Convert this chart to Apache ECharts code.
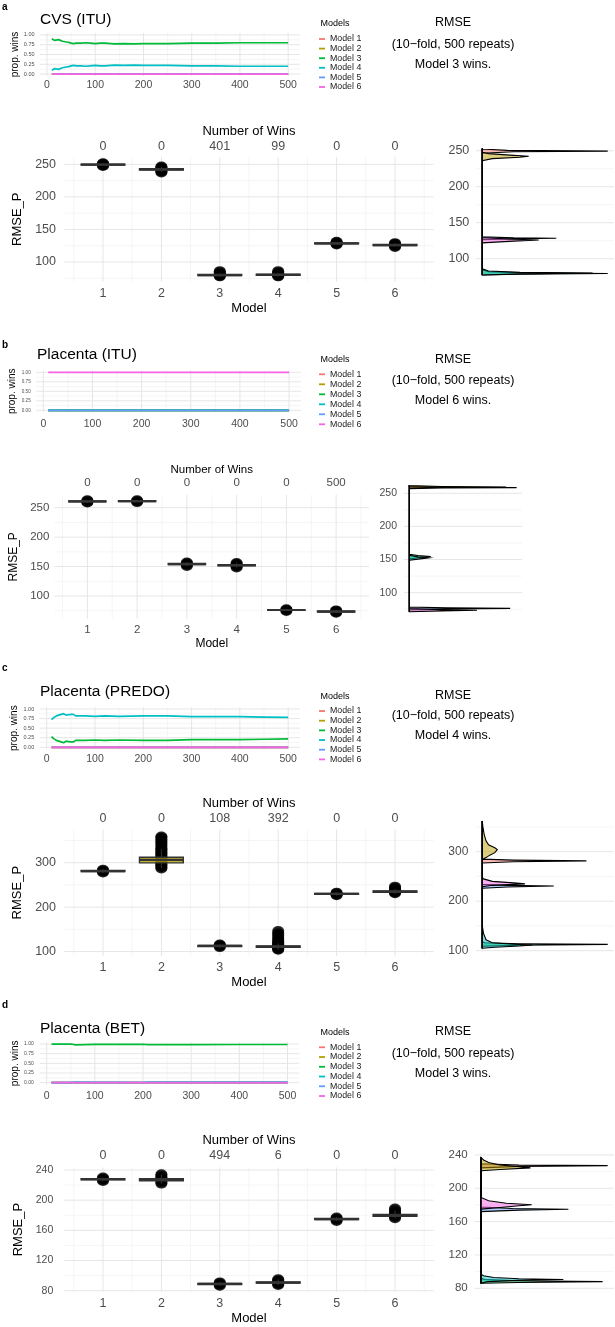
<!DOCTYPE html>
<html><head><meta charset="utf-8">
<script src="https://cdn.jsdelivr.net/npm/echarts@6/dist/echarts.min.js"></script>
<style>html,body{margin:0;padding:0;background:#fff}#c{width:615px;height:1327px}</style>
</head><body><div id="c"></div>
<script>
const MODELS = ['Model 1','Model 2','Model 3','Model 4','Model 5','Model 6'];
const COLORS = ['#F8766D','#B79F00','#00BA38','#00BFC4','#619CFF','#F564E3'];
const MODEL_POS = [1,2,3,4,5,6];

const REPEAT_TICKS = [0,100,200,300,400,500];
const REPEAT_MINOR = [50,150,250,350,450];
const PROP_TICKS = [0,0.25,0.5,0.75,1];
const PROP_MINOR = [0.125,0.375,0.625,0.875];
const BOX_X_MINOR = [0.5,1.5,2.5,3.5,4.5,5.5,6.5];
const FLAT_REPEATS = [10,500];
const FLAT_ZERO = [0,0];
const FLAT_ONE = [1,1];

// ---------- Panel a : CVS (ITU) ----------
const A_TITLE = 'CVS (ITU)';
const A_WINNER = 'Model 3 wins.';
const A_WINS = [0,0,401,99,0,0];
const A_REPEATS = [10,13,16,20,24,28,32,36,40,45,50,55,60,70,80,90,100,110,120,140,160,180,200,250,300,350,400,450,500];
const A_PROP3 = [0.90,0.93,0.86,0.85,0.88,0.86,0.84,0.83,0.82,0.81,0.79,0.78,0.79,0.79,0.80,0.79,0.78,0.79,0.79,0.77,0.78,0.77,0.78,0.78,0.79,0.79,0.80,0.80,0.80];
const A_PROP4 = [0.10,0.07,0.14,0.15,0.12,0.14,0.16,0.17,0.18,0.19,0.21,0.22,0.21,0.21,0.20,0.21,0.22,0.21,0.21,0.23,0.22,0.23,0.22,0.22,0.21,0.21,0.20,0.20,0.20];
const A_LO  = [247.5,238.5,77.8,77.8,126.8,123.5];
const A_Q1  = [248.8,241.2,79.3,79.6,127.9,125.2];
const A_MED = [249.5,242.2,80.0,80.4,128.6,126.0];
const A_Q3  = [250.2,243.2,80.8,81.3,129.3,126.9];
const A_HI  = [251.5,246.0,82.5,83.0,130.5,128.8];
const A_PTS = [[247.5,248.5,249.5,250.5,251.5],[237.5,239,240.5,242,243.5,245,246.5],[78,79,80,81,82,84,86],[78,79,80,81,82,84,86],[127,128,129,130,131],[123,124.5,126,127.5,129]];
const A_DENS = [
  [[77.5,0],[246.5,0],[248.5,0.25],[249.5,1.0],[250.5,0.2],[252.5,0],[253,0]],
  [[77.5,0],[236,0],[239,0.08],[241,0.3],[242.3,0.37],[243.5,0.25],[246,0.05],[248,0],[253,0]],
  [[77.5,0],[78.5,0.3],[79.5,1.0],[80.5,0.35],[82,0.05],[85,0],[253,0]],
  [[77.5,0],[79,0.3],[80.2,0.88],[81,0.3],[83,0.05],[86,0],[253,0]],
  [[77.5,0],[126.5,0],[127.8,0.3],[128.4,0.59],[129,0.25],[130.5,0],[253,0]],
  [[77.5,0],[122,0],[124.5,0.25],[126,0.45],[127.5,0.2],[129.5,0],[253,0]]
];
const A_BOX_TICKS = [100,150,200,250];
const A_BOX_MINOR = [75,125,175,225];
const A_DENS_TICKS = [100,150,200,250];
const A_DENS_MINOR = [125,175,225];

// ---------- Panel b : Placenta (ITU) ----------
const B_TITLE = 'Placenta (ITU)';
const B_WINNER = 'Model 6 wins.';
const B_WINS = [0,0,0,0,0,500];
const B_LO  = [258.8,259.3,150.5,148.3,74.3,71.3];
const B_Q1  = [260.0,260.5,153.5,151.5,75.5,72.8];
const B_MED = [260.8,261.3,154.3,152.4,76.2,73.6];
const B_Q3  = [261.6,262.0,155.1,153.2,76.9,74.4];
const B_HI  = [262.8,263.0,158.0,156.5,78.0,75.8];
const B_PTS = [[259,260,261,262.5],[259.5,261,262.5],[151,153,155,157],[148.5,150.5,152.5,154.5,156],[74.5,76,77.5],[71.5,73,74.5,75.5]];
const B_DENS = [
  [[71.3,0],[257,0],[258,0.3],[258.6,1.0],[259.3,0.3],[260.5,0],[262.5,0]],
  [[71.3,0],[258,0],[259,0.3],[259.5,0.9],[260.2,0.3],[261.5,0],[262.5,0]],
  [[71.3,0],[151,0],[153,0.1],[154.5,0.2],[156,0.08],[158,0],[262.5,0]],
  [[71.3,0],[149,0],[151,0.1],[152.5,0.18],[154,0.08],[156.5,0],[262.5,0]],
  [[71.3,0],[74,0],[75.5,0.4],[76.3,0.94],[77,0.35],[78.5,0],[262.5,0]],
  [[71.3,0],[72.5,0.3],[73.6,0.63],[74.5,0.3],[76,0],[262.5,0]]
];
const B_BOX_TICKS = [100,150,200,250];
const B_BOX_MINOR = [75,125,175,225];
const B_DENS_TICKS = [100,150,200,250];
const B_DENS_MINOR = [75,125,175,225];

// ---------- Panel c : Placenta (PREDO) ----------
const C_TITLE = 'Placenta (PREDO)';
const C_WINNER = 'Model 4 wins.';
const C_WINS = [0,0,108,392,0,0];
const C_REPEATS = [10,15,20,25,30,35,40,45,50,55,60,70,80,100,120,150,200,250,300,350,400,450,500];
const C_PROP4 = [0.72,0.78,0.82,0.84,0.86,0.88,0.84,0.85,0.86,0.86,0.82,0.82,0.82,0.81,0.82,0.81,0.82,0.82,0.80,0.80,0.80,0.79,0.78];
const C_PROP3 = [0.28,0.22,0.18,0.16,0.14,0.12,0.16,0.15,0.14,0.14,0.18,0.18,0.18,0.19,0.18,0.19,0.18,0.18,0.20,0.20,0.20,0.21,0.22];
const C_LO  = [277,288,109,104,226,230];
const C_Q1  = [279.8,299.5,111.5,109.8,228.6,233.3];
const C_MED = [281.0,306.0,112.6,111.0,229.7,234.8];
const C_Q3  = [282.2,312.0,113.8,112.5,230.8,236.4];
const C_HI  = [285,330,116,118,233,241];
const C_PTS = [[278,280,282,284],[287,290,293,296,299,302,305,308,311,314,317,320,323,326,329,332,336,340,344,348,352,356,359],[110,112,114,116],[104,106,108,110,112,114,116,118,120,123,127,131,136,141,146],[226.5,228.5,230.5,232.5],[231,233,235,237,240,243,246]];
const C_DENS = [
  [[105,0],[277,0],[279.5,0.25],[281.5,0.83],[283,0.25],[285,0],[362,0]],
  [[105,0],[284,0],[288,0.03],[293,0.06],[298,0.1],[304,0.12],[308,0.1],[314,0.05],[322,0.03],[335,0.015],[350,0.005],[362,0]],
  [[105,0],[109,0],[111,0.3],[112.7,1.0],[114,0.3],[116,0.02],[118,0],[362,0]],
  [[105,0],[107,0.1],[109.5,0.3],[111.5,0.4],[113,0.25],[116,0.08],[122,0.03],[135,0.01],[150,0],[362,0]],
  [[105,0],[226,0],[228.5,0.2],[230.5,0.57],[232,0.2],[234,0],[362,0]],
  [[105,0],[229,0],[232,0.08],[235,0.34],[237,0.25],[240,0.08],[245,0.01],[248,0],[362,0]]
];
const C_BOX_TICKS = [100,200,300];
const C_BOX_MINOR = [150,250,350];
const C_DENS_TICKS = [100,200,300];
const C_DENS_MINOR = [150,250,350];

// ---------- Panel d : Placenta (BET) ----------
const D_TITLE = 'Placenta (BET)';
const D_WINNER = 'Model 3 wins.';
const D_WINS = [0,0,494,6,0,0];
const D_REPEATS = [10,50,53,60,100,150,200,210,250,300,400,500];
const D_PROP3 = [1.00,1.00,0.98,0.98,0.99,0.99,0.995,0.986,0.988,0.987,0.988,0.988];
const D_PROP4 = [0.00,0.00,0.02,0.017,0.01,0.007,0.005,0.014,0.012,0.013,0.012,0.012];
const D_LO  = [225.5,222,86.5,87.5,172.5,176];
const D_Q1  = [227.0,225.6,88.2,90.0,174.2,178.8];
const D_MED = [227.8,227.0,88.9,90.8,175.0,180.0];
const D_Q3  = [228.6,228.4,89.6,91.6,175.8,181.2];
const D_HI  = [230,234,91,95,177.5,186];
const D_PTS = [[225.5,227,228.5,230],[222,224,226,228,230,232,234.5],[86.5,88,89.5,91],[87.5,89,90.5,92,93.5,95],[172.5,174,175.5,177],[176,178,180,182,184,186.5,189]];
const D_DENS = [
  [[86,0],[224.5,0],[226.3,0.3],[227.2,1.0],[228,0.3],[229.5,0],[237,0]],
  [[86,0],[221,0],[222.5,0.15],[224.5,0.39],[226,0.3],[228,0.15],[231,0.06],[234,0.02],[237,0]],
  [[86,0],[87,0.3],[88,0.96],[89,0.3],[90.5,0.03],[92,0],[237,0]],
  [[86,0],[88,0.05],[89.5,0.3],[90.5,0.65],[91.5,0.3],[93,0.1],[95,0.02],[97,0],[237,0]],
  [[86,0],[172,0],[173.8,0.3],[174.8,0.69],[175.8,0.25],[177.5,0],[237,0]],
  [[86,0],[175,0],[177,0.15],[179,0.3],[180.2,0.4],[182,0.2],[185,0.06],[189,0],[237,0]]
];
const D_BOX_TICKS = [80,120,160,200,240];
const D_BOX_MINOR = [100,140,180,220];
const D_DENS_TICKS = [80,120,160,200,240];
const D_DENS_MINOR = [100,140,180,220];

// ---------- layout (positions / sizes only) ----------
const LAY_A = {letter:'a', letterY:7.5, titleY:19.5, titleX:40, titleSize:15.5,
  line:{left:40,top:33,width:260,height:43}, lxSize:10.5, lxMargin:4, lySize:5.5, lyMargin:5.5, propGap:18,
  legTitleY:24, legTop:34.2, legStep:9.6, textY:[22.7,44.3,64.3],
  box:{left:64.3,top:156.7,width:369.4,height:125}, boxRange:[69.8,261.7], bxSize:12.5, bxMargin:5, byMargin:8.3, bySize:12.5,
  topMargin:3.5, nowGap:19, nowSize:13, modelGap:20, rmseGap:33, rmseSize:13,
  dens:{left:476,top:148,width:138,height:127}, densRange:[77.4,253.8], dySize:12.5, dyMargin:6.7};
const LAY_B = {letter:'b', letterY:345, titleY:355, titleX:37, titleSize:15.5,
  line:{left:36.2,top:370.4,width:264.9,height:41.8}, lxSize:10.5, lxMargin:6.5, lySize:4.6, lyMargin:5.5, propGap:18.5,
  legTitleY:360, legTop:369.3, legStep:10, textY:[359.3,381,401],
  box:{left:54.4,top:494.7,width:314.7,height:124.3}, boxRange:[60.9,272.1], bxSize:11.5, bxMargin:5, byMargin:5, bySize:11.5,
  topMargin:5.5, nowGap:19, nowSize:11.5, modelGap:19, rmseGap:27, rmseSize:12,
  dens:{left:404,top:485,width:118,height:126.7}, densRange:[71.3,262.5], dySize:10.5, dyMargin:7};
const LAY_C = {letter:'c', letterY:668, titleY:692, titleX:40, titleSize:15.5,
  line:{left:39.7,top:707.1,width:260.3,height:42.1}, lxSize:10.5, lxMargin:4.5, lySize:5.5, lyMargin:5.5, propGap:19.5,
  legTitleY:696.7, legTop:706.2, legStep:9.67, textY:[696,716,736],
  box:{left:64.3,top:829.3,width:369.4,height:126.7}, boxRange:[90,375], bxSize:12.5, bxMargin:5, byMargin:8.3, bySize:12.5,
  topMargin:3.8, nowGap:19, nowSize:13, modelGap:20, rmseGap:33, rmseSize:13,
  dens:{left:476,top:819.5,width:138,height:131.9}, densRange:[98.5,365], dySize:12, dyMargin:7.7};
const LAY_D = {letter:'d', letterY:1005, titleY:1029, titleX:40, titleSize:15.5,
  line:{left:39.7,top:1042.1,width:259.6,height:42.5}, lxSize:10.5, lxMargin:6, lySize:5, lyMargin:6, propGap:19.5,
  legTitleY:1032.7, legTop:1042.4, legStep:9.75, textY:[1031.7,1053.3,1073.3],
  box:{left:64.3,top:1167.4,width:369.4,height:124.4}, boxRange:[78.5,243.5], bxSize:12.5, bxMargin:5, byMargin:11, bySize:10.5,
  topMargin:5, nowGap:20, nowSize:13, modelGap:20, rmseGap:33, rmseSize:13,
  dens:{left:474.7,top:1153.3,width:139.3,height:135.4}, densRange:[79.5,242], dySize:11.5, dyMargin:7};

function zip(xs, ys){ return xs.map((x,i)=>[x, ys[i]]); }

const PANELS = [
  {L:LAY_A, title:A_TITLE, winner:A_WINNER, wins:A_WINS,
   lines:[[FLAT_REPEATS,FLAT_ZERO],[FLAT_REPEATS,FLAT_ZERO],[A_REPEATS,A_PROP3],[A_REPEATS,A_PROP4],[FLAT_REPEATS,FLAT_ZERO],[FLAT_REPEATS,FLAT_ZERO]],
   lo:A_LO,q1:A_Q1,med:A_MED,q3:A_Q3,hi:A_HI,pts:A_PTS,dens:A_DENS,bt:A_BOX_TICKS,bm:A_BOX_MINOR,dt:A_DENS_TICKS,dm:A_DENS_MINOR},
  {L:LAY_B, title:B_TITLE, winner:B_WINNER, wins:B_WINS,
   lines:[[FLAT_REPEATS,FLAT_ZERO],[FLAT_REPEATS,FLAT_ZERO],[FLAT_REPEATS,FLAT_ZERO],[FLAT_REPEATS,FLAT_ZERO],[FLAT_REPEATS,FLAT_ZERO],[FLAT_REPEATS,FLAT_ONE]],
   lo:B_LO,q1:B_Q1,med:B_MED,q3:B_Q3,hi:B_HI,pts:B_PTS,dens:B_DENS,bt:B_BOX_TICKS,bm:B_BOX_MINOR,dt:B_DENS_TICKS,dm:B_DENS_MINOR},
  {L:LAY_C, title:C_TITLE, winner:C_WINNER, wins:C_WINS,
   lines:[[FLAT_REPEATS,FLAT_ZERO],[FLAT_REPEATS,FLAT_ZERO],[C_REPEATS,C_PROP3],[C_REPEATS,C_PROP4],[FLAT_REPEATS,FLAT_ZERO],[FLAT_REPEATS,FLAT_ZERO]],
   lo:C_LO,q1:C_Q1,med:C_MED,q3:C_Q3,hi:C_HI,pts:C_PTS,dens:C_DENS,bt:C_BOX_TICKS,bm:C_BOX_MINOR,dt:C_DENS_TICKS,dm:C_DENS_MINOR},
  {L:LAY_D, title:D_TITLE, winner:D_WINNER, wins:D_WINS,
   lines:[[FLAT_REPEATS,FLAT_ZERO],[FLAT_REPEATS,FLAT_ZERO],[D_REPEATS,D_PROP3],[D_REPEATS,D_PROP4],[FLAT_REPEATS,FLAT_ZERO],[FLAT_REPEATS,FLAT_ZERO]],
   lo:D_LO,q1:D_Q1,med:D_MED,q3:D_Q3,hi:D_HI,pts:D_PTS,dens:D_DENS,bt:D_BOX_TICKS,bm:D_BOX_MINOR,dt:D_DENS_TICKS,dm:D_DENS_MINOR}
];

const FONT = "'Liberation Sans', Arial, Helvetica, sans-serif";
const TICK_COL = '#4D4D4D';
const grids=[], xAxes=[], yAxes=[], series=[], legends=[], graphics=[];
const HIDE = {axisLine:{show:false}, axisTick:{show:false}, splitLine:{show:false}, minorSplitLine:{show:false}};

function txt(text, x, y, size, align, weight){
  graphics.push({type:'text', x:x, y:y, silent:true, z:10,
    style:{text:text, fill:'#000', fontSize:size, fontFamily:FONT, fontWeight:weight||'normal',
      align:align||'left', verticalAlign:'middle'}});
}

function gridLines(xi, yi, xr, yr, xMaj, xMin, yMaj, yMin){
  const data = [];
  xMin.forEach(v=>data.push([0,v,0])); yMin.forEach(v=>data.push([1,v,0]));
  xMaj.forEach(v=>data.push([0,v,1])); yMaj.forEach(v=>data.push([1,v,1]));
  series.push({type:'custom', name:'grid', xAxisIndex:xi, yAxisIndex:yi, silent:true, z:0, clip:false,
    data:data,
    renderItem:function(params, api){
      const dir=api.value(0), v=api.value(1), major=api.value(2);
      let p1, p2;
      if (dir===0){ p1=api.coord([v,yr[0]]); p2=api.coord([v,yr[1]]); }
      else { p1=api.coord([xr[0],v]); p2=api.coord([xr[1],v]); }
      return {type:'line', shape:{x1:p1[0],y1:p1[1],x2:p2[0],y2:p2[1]},
        style:{stroke: major ? '#E6E6E6' : '#F0F0F0', lineWidth: major ? 1 : 0.7}};
    }});
}

PANELS.forEach(P=>{
  const L = P.L;
  txt(L.letter, 2, L.letterY, 10, 'left', 'bold');
  txt(P.title, L.titleX, L.titleY, L.titleSize, 'left');
  txt('Models', 320.5, L.legTitleY, 9, 'left');
  txt('RMSE', 453, L.textY[0], 12.5, 'center');
  txt('(10\u2212fold, 500 repeats)', 453, L.textY[1], 12.5, 'center');
  txt(P.winner, 453, L.textY[2], 12.5, 'center');

  // ---- line plot ----
  const gL = grids.length; grids.push(Object.assign({outerBoundsMode:'none', containLabel:false}, L.line));
  const xL = xAxes.length;
  const xrL = [-14.5, 524.5], yrL = [-0.05, 1.05];
  xAxes.push(Object.assign({type:'value', gridIndex:gL, min:xrL[0], max:xrL[1],
    axisLabel:{customValues:REPEAT_TICKS, fontSize:L.lxSize, color:TICK_COL, margin:L.lxMargin, fontFamily:FONT}}, HIDE));
  const yL = yAxes.length;
  yAxes.push(Object.assign({type:'value', gridIndex:gL, min:yrL[0], max:yrL[1],
    axisLabel:{customValues:PROP_TICKS, formatter:v=>Number(v).toFixed(2), fontSize:L.lySize, color:TICK_COL, margin:L.lyMargin, fontFamily:FONT},
    name:'prop. wins', nameLocation:'middle', nameRotate:90, nameGap:L.propGap,
    nameTextStyle:{fontSize:10, color:'#000', fontFamily:FONT}}, HIDE));
  gridLines(xL, yL, xrL, yrL, REPEAT_TICKS, REPEAT_MINOR, PROP_TICKS, PROP_MINOR);
  P.lines.forEach((ln, m)=>{
    series.push({type:'line', name:MODELS[m], xAxisIndex:xL, yAxisIndex:yL, data:zip(ln[0], ln[1]),
      showSymbol:false, symbol:'none', color:COLORS[m], itemStyle:{color:COLORS[m]},
      lineStyle:{color:COLORS[m], width:1.7}, z:2, silent:true, animation:false});
  });
  legends.push({data:MODELS, orient:'vertical', left:319, top:L.legTop, icon:'rect', itemWidth:6, itemHeight:1.8,
    itemGap:0, padding:0, selectedMode:false,
    textStyle:{fontSize:8.8, color:'#1a1a1a', fontFamily:FONT, lineHeight:L.legStep}});

  // ---- box plot ----
  const gB = grids.length; grids.push(Object.assign({outerBoundsMode:'none', containLabel:false}, L.box));
  const xrB = [0.3375, 6.6625], yrB = L.boxRange;
  const xB = xAxes.length;
  xAxes.push(Object.assign({type:'value', gridIndex:gB, min:xrB[0], max:xrB[1], position:'bottom',
    axisLabel:{customValues:MODEL_POS, fontSize:L.bxSize, color:TICK_COL, margin:L.bxMargin, fontFamily:FONT},
    name:'Model', nameLocation:'middle', nameGap:L.modelGap, nameTextStyle:{fontSize:L.rmseSize, color:'#000', fontFamily:FONT}}, HIDE));
  xAxes.push(Object.assign({type:'value', gridIndex:gB, min:xrB[0], max:xrB[1], position:'top',
    axisLabel:{customValues:MODEL_POS, formatter:v=>String(P.wins[Math.round(v)-1]), fontSize:L.bxSize, color:TICK_COL, margin:L.topMargin, fontFamily:FONT},
    name:'Number of Wins', nameLocation:'middle', nameGap:L.nowGap, nameTextStyle:{fontSize:L.nowSize, color:'#000', fontFamily:FONT}}, HIDE));
  const yB = yAxes.length;
  yAxes.push(Object.assign({type:'value', gridIndex:gB, min:yrB[0], max:yrB[1],
    axisLabel:{customValues:P.bt, fontSize:L.bySize, color:TICK_COL, margin:L.byMargin, fontFamily:FONT},
    name:'RMSE_P', nameLocation:'middle', nameRotate:90, nameGap:L.rmseGap, nameTextStyle:{fontSize:L.rmseSize, color:'#000', fontFamily:FONT}}, HIDE));
  gridLines(xB, yB, xrB, yrB, MODEL_POS, BOX_X_MINOR, P.bt, P.bm);
  const ptsData = [];
  P.pts.forEach((arr, m)=>arr.forEach(v=>ptsData.push([MODEL_POS[m], v])));
  series.push({type:'scatter', name:'points', xAxisIndex:xB, yAxisIndex:yB, data:ptsData, symbol:'circle',
    symbolSize:[12,10], itemStyle:{color:'#000', opacity:0.85}, z:2, silent:true});
  series.push({type:'custom', name:'box', xAxisIndex:xB, yAxisIndex:yB, z:3, silent:true, clip:false,
    data: MODEL_POS.map((x,i)=>[x, P.lo[i], P.q1[i], P.med[i], P.q3[i], P.hi[i], i]),
    renderItem:function(params, api){
      const x=api.value(0), lo=api.value(1), q1=api.value(2), med=api.value(3), q3=api.value(4), hi=api.value(5), m=api.value(6);
      const a=api.coord([x-0.375,q3]), b=api.coord([x+0.375,q1]);
      const mL=api.coord([x-0.375,med]), mR=api.coord([x+0.375,med]);
      const wT=api.coord([x,hi]), w3=api.coord([x,q3]), w1=api.coord([x,q1]), wB=api.coord([x,lo]);
      return {type:'group', children:[
        {type:'line', shape:{x1:wT[0],y1:wT[1],x2:w3[0],y2:w3[1]}, style:{stroke:'#333',lineWidth:1}},
        {type:'line', shape:{x1:w1[0],y1:w1[1],x2:wB[0],y2:wB[1]}, style:{stroke:'#333',lineWidth:1}},
        {type:'rect', shape:{x:a[0],y:a[1],width:b[0]-a[0],height:b[1]-a[1]},
          style:{fill:echarts.color.modifyAlpha(COLORS[m],0.8), stroke:'#333', lineWidth:1.4}},
        {type:'line', shape:{x1:mL[0],y1:mL[1],x2:mR[0],y2:mR[1]}, style:{stroke:'#333',lineWidth:2.2}}
      ]};
    }});

  // ---- density panel ----
  const gD = grids.length; grids.push(Object.assign({outerBoundsMode:'none', containLabel:false}, L.dens));
  const xrD = [-0.05, 1.05], yrD = L.densRange;
  const xD = xAxes.length;
  xAxes.push(Object.assign({type:'value', gridIndex:gD, min:xrD[0], max:xrD[1], axisLabel:{show:false}}, HIDE));
  const yD = yAxes.length;
  yAxes.push(Object.assign({type:'value', gridIndex:gD, min:yrD[0], max:yrD[1],
    axisLabel:{customValues:P.dt, fontSize:L.dySize, color:TICK_COL, margin:L.dyMargin, fontFamily:FONT}}, HIDE));
  gridLines(xD, yD, xrD, yrD, [0], [], P.dt, P.dm);
  P.dens.forEach((arr, m)=>{
    series.push({type:'custom', name:'density '+MODELS[m], xAxisIndex:xD, yAxisIndex:yD, z:2+m*0.01, silent:true, clip:false,
      data: arr.map(p=>[p[1], p[0]]),
      renderItem:function(params, api){
        if (params.dataIndexInside !== 0) return null;
        const pts = [];
        for (let i=0;i<params.dataInsideLength;i++) pts.push(api.coord([api.value(0,i), api.value(1,i)]));
        return {type:'polygon', shape:{points:pts},
          style:{fill:echarts.color.modifyAlpha(COLORS[m],0.5), stroke:'#000', lineWidth:1.1}};
      }});
  });
});

const chart = echarts.init(document.getElementById('c'), null, {renderer:'canvas'});
chart.setOption({
  animation:false,
  backgroundColor:'#ffffff',
  textStyle:{fontFamily:FONT},
  grid:grids, xAxis:xAxes, yAxis:yAxes, series:series, legend:legends, graphic:graphics
});
</script>
</body></html>
